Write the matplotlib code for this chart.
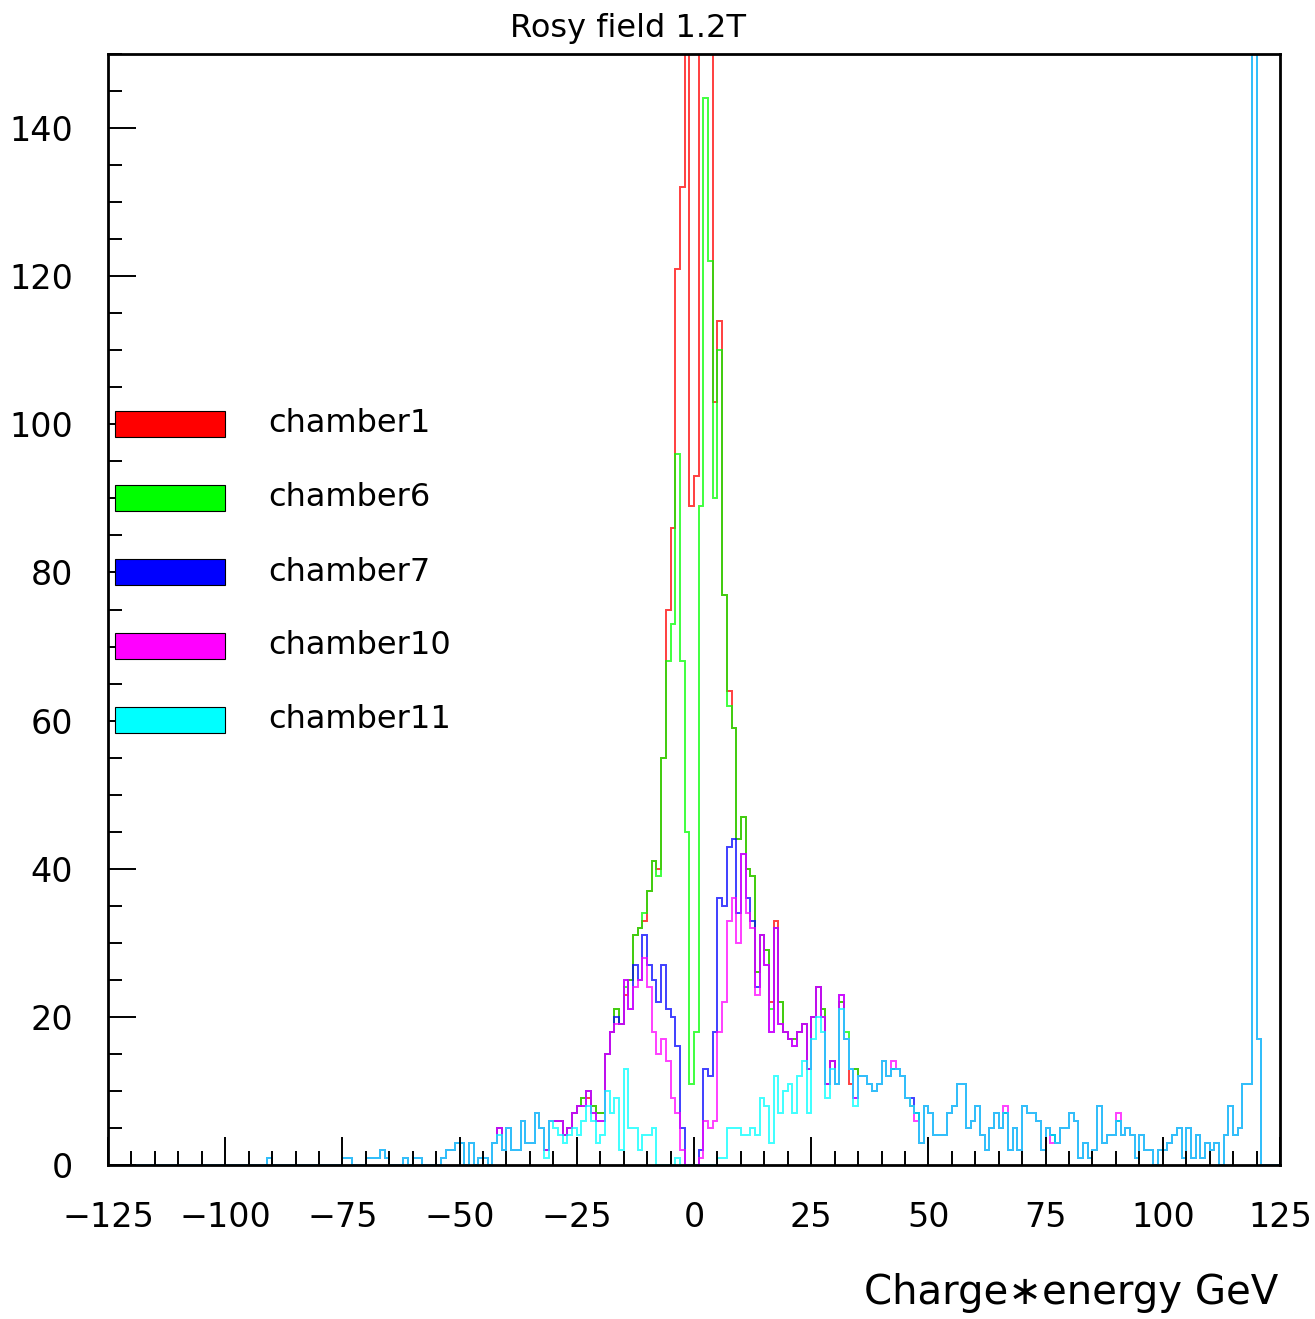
import numpy as np
import matplotlib
matplotlib.use("Agg")
import matplotlib.pyplot as plt
from matplotlib.patches import Rectangle
from matplotlib.ticker import MultipleLocator

# 1 GeV bins from -125 to 125
edges = np.arange(-125, 126, 1)

# bins -125 .. -45, identical for every chamber
tail_left = [0, 0, 0, 0, 0, 0, 0, 0, 0, 0, 0, 0, 0, 0, 0, 0, 0,
             0, 0, 0, 0, 0, 0, 0, 0, 0, 0, 0, 0, 0, 0, 0, 0, 0,
             1, 0, 0, 0, 0, 0, 0, 0, 0, 0, 0, 0, 0, 0, 0, 0,
             1, 1, 0, 0, 0, 1, 1, 1, 2, 1, 0, 0, 0, 1, 0, 1, 1,
             0, 0, 0, 0, 1, 2, 2, 3, 3, 0, 3, 0, 1, 1]

# bins -44 .. 47, where the chambers differ
c1_mid = [0, 3, 5, 2, 5, 2, 2, 6, 3, 3, 7, 5, 2, 6, 6, 6, 4, 5, 7, 8,
          9, 9, 8, 7, 7, 15, 18, 21, 19, 23, 25, 31, 32, 33, 37, 41, 40, 55, 75, 86,
          121, 132, 175, 89, 93, 190, 240, 210, 103, 114, 77, 64, 59, 44, 47, 40, 39, 26, 31, 29,
          22, 33, 22, 18, 17, 17, 18, 19, 13, 20, 24, 21, 11, 14, 11, 22, 17, 11, 13, 12,
          12, 11, 10, 11, 14, 12, 13, 13, 12, 9, 8, 7]
c6_mid = [0, 3, 5, 2, 5, 2, 2, 6, 3, 3, 7, 5, 2, 6, 6, 6, 4, 5, 7, 8,
          9, 10, 8, 7, 7, 15, 18, 21, 19, 24, 25, 31, 32, 34, 37, 41, 39, 55, 68, 73,
          96, 68, 45, 11, 18, 89, 144, 122, 90, 110, 77, 62, 59, 44, 47, 40, 39, 26, 31, 29,
          21, 32, 22, 18, 17, 17, 18, 19, 13, 20, 24, 21, 11, 14, 11, 22, 18, 13, 13, 12,
          12, 11, 10, 11, 14, 12, 13, 13, 12, 9, 8, 7]
c7_mid = [0, 3, 5, 2, 5, 2, 2, 6, 3, 3, 7, 5, 2, 6, 6, 6, 4, 5, 7, 8,
          8, 10, 7, 6, 6, 15, 18, 20, 19, 25, 21, 27, 25, 31, 27, 25, 22, 27, 21, 20,
          16, 5, 0, 0, 0, 2, 13, 12, 18, 36, 35, 43, 44, 34, 42, 36, 33, 24, 31, 27,
          18, 32, 19, 18, 17, 16, 18, 19, 13, 20, 24, 20, 11, 14, 11, 23, 17, 13, 9, 12,
          12, 11, 10, 11, 14, 12, 13, 13, 12, 9, 9, 7]
c10_mid = [0, 3, 5, 2, 5, 2, 2, 6, 3, 3, 7, 5, 2, 6, 6, 6, 4, 5, 7, 8,
           8, 10, 7, 6, 6, 15, 18, 19, 19, 25, 21, 24, 25, 28, 24, 18, 15, 17, 14, 9,
           7, 2, 0, 0, 0, 1, 6, 5, 6, 18, 22, 33, 36, 30, 42, 34, 32, 23, 31, 27,
           18, 32, 19, 18, 17, 16, 18, 19, 13, 20, 24, 20, 11, 14, 11, 23, 17, 13, 9, 12,
           12, 11, 10, 11, 14, 12, 14, 13, 12, 9, 8, 6]
c11_mid = [0, 3, 4, 2, 5, 2, 2, 6, 3, 3, 7, 5, 1, 6, 5, 4, 3, 4, 5, 4,
           6, 8, 6, 3, 4, 10, 7, 9, 2, 13, 5, 5, 2, 4, 4, 5, 0, 0, 0, 0,
           1, 0, 0, 0, 0, 0, 0, 0, 0, 1, 1, 5, 5, 5, 4, 4, 5, 4, 9, 8,
           3, 12, 7, 10, 11, 7, 12, 14, 7, 17, 20, 18, 9, 13, 11, 21, 17, 13, 8, 12,
           12, 11, 10, 11, 14, 12, 13, 13, 12, 9, 8, 7]

# bins 48 .. 124, shared tail (bin 119 runs far off scale)
tail_right = [3, 8, 7, 4, 4, 4, 7, 8, 11, 11, 5, 6, 8, 4, 2, 5, 7, 5, 7, 2,
              5, 2, 8, 7, 7, 6, 2, 5, 4, 3, 5, 5, 7, 6, 1, 3, 1, 2, 8, 3,
              4, 4, 6, 4, 5, 4, 1, 4, 2, 2, 0, 2, 2, 3, 4, 5, 1, 5, 1, 4,
              1, 3, 2, 3, 0, 4, 8, 4, 5, 11, 11, 400, 17, 0, 0, 0, 0]
# chamber10 tail bins that stand one count apart
c10_tail_fix = {66: 8, 76: 3, 90: 7}

names = ["chamber1", "chamber6", "chamber7", "chamber10", "chamber11"]
colours = ["#ff0000", "#00ff00", "#0000ff", "#ff00ff", "#00ffff"]
mids = [c1_mid, c6_mid, c7_mid, c10_mid, c11_mid]

W, H = 1315, 1319
fig = plt.figure(figsize=(W / 100, H / 100), dpi=100)
ax = fig.add_axes([108 / W, 1 - 1165 / H, (1280 - 108) / W, (1165 - 54) / H])

for name, mid, col in zip(names, mids, colours):
    tr = list(tail_right)
    if name == "chamber10":
        for b, v in c10_tail_fix.items():
            tr[b - 48] = v
    counts = np.array(tail_left + mid + tr, dtype=float)
    ax.stairs(counts, edges, color=col, lw=1.4, alpha=0.75)

ax.set_xlim(-125, 125)
ax.set_ylim(0, 150)
ax.xaxis.set_major_locator(MultipleLocator(25))
ax.xaxis.set_minor_locator(MultipleLocator(5))
ax.yaxis.set_major_locator(MultipleLocator(20))
ax.yaxis.set_minor_locator(MultipleLocator(5))
ax.tick_params(which="both", direction="in", top=False, right=False, width=1.4, colors="black")
ax.tick_params(which="major", length=20)
ax.tick_params(which="minor", length=10)
ax.tick_params(axis="x", which="major", pad=26, labelsize=24)
ax.tick_params(axis="y", which="major", pad=25, labelsize=24)
for s in ax.spines.values():
    s.set_linewidth(2.0)

# legend boxes drawn by hand
box_y = [424, 498, 572, 646, 720]
for name, col, yc in zip(names, colours, box_y):
    fig.patches.append(Rectangle((115 / W, 1 - (yc + 13) / H), 110 / W, 26 / H,
                                 transform=fig.transFigure, facecolor=col,
                                 edgecolor="black", lw=0.8))
    fig.text(268 / W, 1 - yc / H, name, fontsize=23, ha="left", va="center")

fig.text(628 / W, 1 - 28 / H, "Rosy field 1.2T", fontsize=23, ha="center", va="center")
fig.text(1278 / W, 1 - 1293 / H, "Charge\u2217energy GeV", fontsize=29, ha="right", va="center")

fig.savefig("out.png", dpi=100)
